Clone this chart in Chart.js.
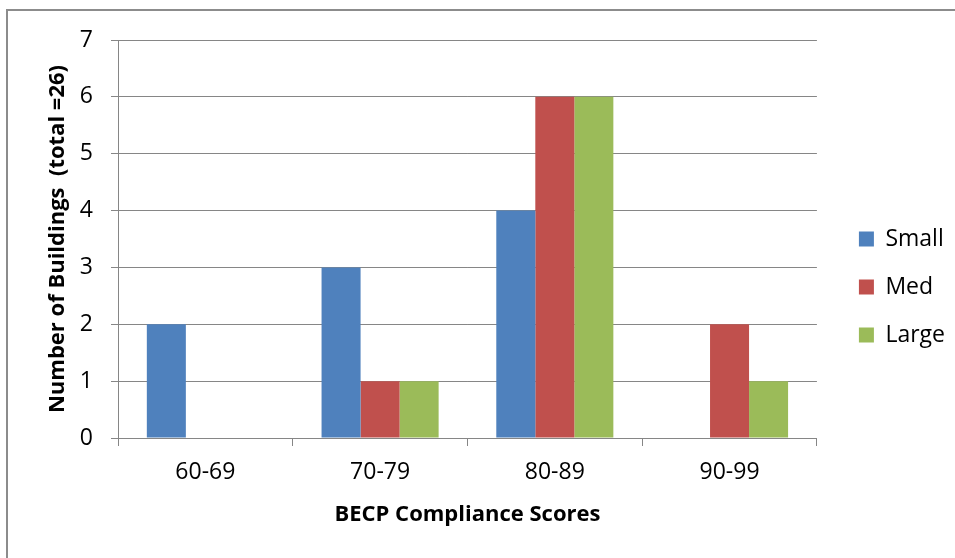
<!DOCTYPE html>
<html>
<head>
<meta charset="utf-8">
<script src="https://cdn.jsdelivr.net/npm/chart.js@4"></script>
<style>
  html, body { margin: 0; padding: 0; background: #ffffff; }
  #wrap { position: relative; width: 955px; height: 558px; overflow: hidden; }
  #frame { position: absolute; left: 6px; top: 9px; width: 1000px; height: 600px; border: 2px solid #8c8c8c; box-sizing: border-box; }
  #c { position: absolute; left: 0; top: 0; }
</style>
</head>
<body>
<div id="wrap">
  <div id="frame"></div>
  <canvas id="c" width="955" height="558"></canvas>
</div>
<script>
const categories = ["60-69", "70-79", "80-89", "90-99"];
const small = [2, 3, 4, 0];
const med = [0, 1, 6, 2];
const large = [0, 1, 6, 1];
const yTicks = [0, 1, 2, 3, 4, 5, 6, 7];

const FONT = "'Open Sans', sans-serif";
const GRID = "#868686";

new Chart(document.getElementById("c"), {
  type: "bar",
  data: {
    labels: categories,
    datasets: [
      { label: "Small", data: small, backgroundColor: "#4F81BD" },
      { label: "Med", data: med, backgroundColor: "#C0504D" },
      { label: "Large", data: large, backgroundColor: "#9BBB59" }
    ]
  },
  options: {
    responsive: false,
    animation: false,
    devicePixelRatio: 1,
    layout: { padding: { top: 40, left: 45, right: 0, bottom: 24 } },
    datasets: { bar: { categoryPercentage: 0.67, barPercentage: 1.0, borderWidth: 0 } },
    plugins: {
      legend: {
        position: "right",
        labels: {
          boxWidth: 15, boxHeight: 15, padding: 25,
          color: "#000", font: { family: FONT, size: 23 }
        }
      },
      tooltip: { enabled: false }
    },
    scales: {
      x: {
        grid: { offset: true, drawOnChartArea: false, tickLength: 8, color: GRID, lineWidth: 1 },
        border: { color: GRID, width: 1 },
        ticks: { color: "#000", font: { family: FONT, size: 23 }, padding: 13 },
        title: { display: true, text: "BECP Compliance Scores", color: "#000",
                 font: { family: FONT, size: 22, weight: "bold" }, padding: { top: 15, bottom: 6 } },
        afterFit: (scale) => { scale.height = 96; }
      },
      y: {
        min: 0, max: 7,
        afterBuildTicks: (axis) => { axis.ticks = yTicks.map(v => ({ value: v })); },
        grid: { tickLength: 7, color: GRID, lineWidth: 1 },
        border: { color: GRID, width: 1 },
        ticks: { color: "#000", font: { family: FONT, size: 23 }, padding: 18 },
        title: { display: true, text: "Number of Buildings  (total =26)", color: "#000",
                 font: { family: FONT, size: 22, weight: "bold" }, padding: { top: 0, bottom: 9 } },
        afterFit: (scale) => { scale.width = 73; }
      },
      gap: {
        position: "right",
        display: true,
        grid: { display: false },
        border: { display: false },
        ticks: { display: false },
        afterFit: (scale) => { scale.width = 17; }
      }
    }
  }
});
</script>
</body>
</html>
